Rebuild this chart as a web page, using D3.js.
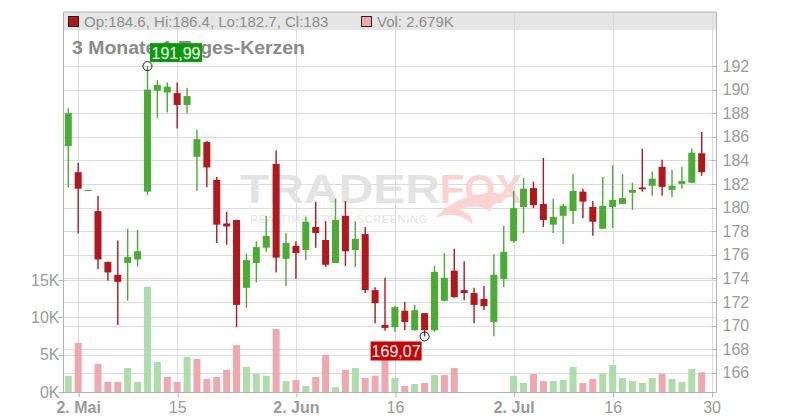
<!DOCTYPE html>
<html><head><meta charset="utf-8">
<script src="https://cdn.jsdelivr.net/npm/d3@7"></script>
<style>body{margin:0;background:#fff}svg{display:block;font-family:"Liberation Sans",Arial,sans-serif}</style>
</head><body><svg id="c" width="800" height="420"></svg>
<script>
const open  = [185.2,183.0,181.5,179.7,175.4,174.3,175.3,175.6,181.35,189.9,189.75,189.7,188.7,184.3,185.55,182.35,178.65,178.95,173.2,175.3,176.6,183.7,175.65,176.75,176.4,178.35,177.25,175.3,179.3,176.4,177.75,173.0,170.05,169.85,171.25,169.6,171.05,169.6,172.1,174.65,173.0,172.75,172.25,170.3,173.95,177.15,180.05,181.65,180.3,178.55,179.3,179.7,181.35,180.05,178.2,180.05,180.3,181.25,181.7,181.85,183.45,181.5,182.0,182.1,184.6];
const high  = [188.4,183.8,181.5,181.0,175.4,177.2,178.2,178.1,191.99,190.8,190.6,190.6,190.15,186.6,185.65,182.6,179.65,178.95,176.1,177.15,179.3,184.85,177.85,177.15,179.25,180.5,178.85,180.75,180.55,178.85,178.35,173.25,174.05,171.65,172.0,171.75,171.05,175.05,176.15,176.5,175.45,173.2,173.35,176.05,178.45,181.4,182.5,182.2,184.2,180.75,180.3,182.85,181.6,180.55,182.6,183.6,182.85,182.1,185.0,183.05,184.05,183.2,183.45,185.0,186.4];
const low   = [181.7,177.8,181.5,174.8,173.8,170.05,172.1,175.0,181.05,187.6,188.05,186.7,187.95,181.4,181.75,177.0,176.85,169.85,171.5,173.65,176.25,174.5,173.35,173.95,175.55,176.6,174.95,175.3,175.05,174.95,172.75,170.2,169.55,169.45,169.6,169.55,169.07,169.45,172.05,172.35,172.15,170.2,171.3,169.1,173.25,177.0,177.85,179.95,178.35,177.85,176.9,178.6,179.1,177.6,178.2,178.25,180.3,179.8,181.35,181.0,181.0,180.9,181.6,182.1,182.7];
const close = [188.0,181.6,181.5,175.6,174.5,173.7,175.8,176.3,190.0,190.4,190.25,188.7,189.45,185.8,183.4,178.55,178.4,171.75,175.55,176.65,177.6,175.75,177.0,176.15,178.8,177.85,175.15,178.95,176.3,177.35,173.0,171.9,169.8,171.55,170.3,171.3,169.6,174.55,174.05,172.4,172.75,171.75,171.65,174.3,176.25,179.95,181.6,180.2,178.95,179.2,180.15,181.4,180.5,178.8,180.15,180.65,180.8,181.5,181.55,182.45,181.75,181.85,182.25,184.65,183.0];
const volumeK = [2.2,6.6,0,3.8,1.4,1.4,3.25,1.4,14.1,4.05,2.05,1.4,4.7,4.45,1.8,2.05,3.0,6.3,3.4,2.45,2.2,8.45,1.5,1.65,0.85,2.05,5.0,0.7,3.0,3.25,1.9,2.2,5.4,1.9,0.85,1.1,1.25,2.3,2.3,3.25,0,0,0,0,0,2.2,1.25,2.45,1.5,1.5,1.65,3.4,1.25,1.8,2.6,3.65,1.9,1.5,1.25,1.9,2.45,1.8,1.4,3.1,2.679];
const tickIndex  = [1,11,23,33,45,55,65];
const tickLabels = ["2. Mai","15","2. Jun","16","2. Jul","16","30"];
const tickBold   = [true,false,true,false,true,false,false];
const priceTicks = [166,168,170,172,174,176,178,180,182,184,186,188,190,192];
const volTicks   = [0,5,10,15];
const titleText  = "3 Monate 1-Tages-Kerzen";
const hiLabel = "191,99", loLabel = "169,07";

const svg = d3.select("#c");
const L = 63.5, R = 716.5, T = 12, B = 392.5;
const x  = d3.scaleLinear().domain([0,65]).range([68.3,711.6]);
const yP = d3.scaleLinear().domain([166,192]).range([372.7,66]);
const yV = d3.scaleLinear().domain([0,15]).range([392.3,280]);
const GRID = "#dcdcdc", AX = "#b4b4b4", TXT = "#9a9a9a";
const GREEN = "#49ad34", RED = "#b3161b", VGREEN = "#acddaa", VRED = "#efa7b0";
const crisp = v => Math.round(v) + 0.5;

// header band
svg.append("rect").attr("x",L).attr("y",T).attr("width",R-L).attr("height",18).attr("fill","#e5e5e5");

// vertical grid
svg.append("g").selectAll("line").data(tickIndex).join("line")
  .attr("x1",d=>crisp(x(d))).attr("x2",d=>crisp(x(d))).attr("y1",T).attr("y2",B)
  .attr("stroke",GRID);
// horizontal price grid
svg.append("g").selectAll("line").data(priceTicks).join("line")
  .attr("x1",L).attr("x2",R).attr("y1",d=>crisp(yP(d))).attr("y2",d=>crisp(yP(d))).attr("stroke",GRID);
// volume grid
svg.append("g").selectAll("line").data(volTicks.slice(1)).join("line")
  .attr("x1",L).attr("x2",R).attr("y1",d=>crisp(yV(d))).attr("y2",d=>crisp(yV(d))).attr("stroke",GRID);

// watermark
const wm = svg.append("g");
wm.append("text").attr("x",240).attr("y",203).attr("font-size",40).attr("font-weight","bold")
  .attr("textLength",200).attr("lengthAdjust","spacingAndGlyphs").attr("fill","#e3e3e3").text("TRADER");
wm.append("text").attr("x",440).attr("y",203).attr("font-size",40).attr("font-weight","bold")
  .attr("textLength",82).attr("lengthAdjust","spacingAndGlyphs").attr("fill","#fbd3d3").text("FOX");
wm.append("path").attr("d","M436,218 C452,196 488,188 516,196 C500,198 492,204 490,212 C484,206 470,204 460,210 C468,212 474,218 472,224 C462,214 448,212 436,218 Z")
  .attr("fill","#fbd3d3");
wm.append("text").attr("x",250).attr("y",223).attr("font-size",11).attr("textLength",177)
  .attr("lengthAdjust","spacing").attr("fill","#e3e3e3").text("REALTIME STOCK SCREENING");

// volume bars
const idx = d3.range(close.length);
const vUp = i => i === 0 || close[i] >= close[i-1];
svg.append("g").selectAll("rect").data(idx).join("rect")
  .attr("x",i=>x(i)-3.5).attr("width",7)
  .attr("y",i=>yV(volumeK[i])).attr("height",i=>yV(0)-yV(volumeK[i]))
  .attr("fill",i=>vUp(i)?VGREEN:VRED);

// candles
const cg = svg.append("g");
const col = i => close[i] >= open[i] ? GREEN : RED;
cg.selectAll("line").data(idx).join("line")
  .attr("x1",i=>x(i)).attr("x2",i=>x(i)).attr("y1",i=>yP(high[i])).attr("y2",i=>yP(low[i]))
  .attr("stroke",col).attr("stroke-width",1.4);
cg.selectAll("rect").data(idx).join("rect")
  .attr("x",i=>x(i)-3.5).attr("width",7)
  .attr("y",i=>yP(Math.max(open[i],close[i])))
  .attr("height",i=>Math.max(1.2,Math.abs(yP(open[i])-yP(close[i]))))
  .attr("fill",col);

// axes lines
svg.append("line").attr("x1",L).attr("x2",L).attr("y1",T).attr("y2",B).attr("stroke",AX);
svg.append("line").attr("x1",R).attr("x2",R).attr("y1",T).attr("y2",B).attr("stroke",AX);
svg.append("line").attr("x1",L).attr("x2",R).attr("y1",B).attr("y2",B).attr("stroke",AX);
svg.append("line").attr("x1",L).attr("x2",R).attr("y1",T).attr("y2",T).attr("stroke",AX);

// right price axis
const ra = svg.append("g").attr("transform",`translate(${R},0)`)
  .call(d3.axisRight(yP).tickValues(priceTicks).tickSize(0).tickPadding(6).tickFormat(d3.format("d")));
ra.select(".domain").remove();
ra.selectAll("text").attr("fill",TXT).attr("font-size",16).attr("font-family","Liberation Sans, Arial, sans-serif");
svg.append("g").selectAll("line").data(priceTicks).join("line")
  .attr("x1",R-5).attr("x2",R).attr("y1",d=>crisp(yP(d))).attr("y2",d=>crisp(yP(d))).attr("stroke",AX);

// left volume axis
const la = svg.append("g").attr("transform",`translate(${L},0)`)
  .call(d3.axisLeft(yV).tickValues(volTicks).tickSize(0).tickPadding(4).tickFormat(d=>d+"K"));
la.select(".domain").remove();
la.selectAll("text").attr("fill",TXT).attr("font-size",16).attr("font-family","Liberation Sans, Arial, sans-serif");
svg.append("g").selectAll("line").data(volTicks).join("line")
  .attr("x1",L-5).attr("x2",L+1).attr("y1",d=>crisp(yV(d))).attr("y2",d=>crisp(yV(d))).attr("stroke",AX);

// bottom axis
const ba = svg.append("g").attr("transform",`translate(0,${B})`)
  .call(d3.axisBottom(x).tickValues(tickIndex).tickSize(5).tickPadding(4).tickFormat((d,i)=>tickLabels[i]));
ba.select(".domain").remove();
ba.selectAll("line").attr("stroke",AX).attr("transform","translate(0.5,0)");
ba.selectAll("text").attr("fill",TXT).attr("font-size",16).attr("dy","0.72em")
  .attr("font-family","Liberation Sans, Arial, sans-serif")
  .attr("font-weight",(d,i)=>tickBold[i]?"bold":"normal");

// header legend
const last = close.length-1;
svg.append("rect").attr("x",68.5).attr("y",16.5).attr("width",10).attr("height",10)
  .attr("fill",col(last)).attr("stroke","#222");
svg.append("text").attr("x",84).attr("y",27).attr("font-size",15).attr("fill","#8e8e8e")
  .text(`Op:${open[last]}, Hi:${high[last]}, Lo:${low[last]}, Cl:${close[last]}`);
svg.append("rect").attr("x",361.5).attr("y",16.5).attr("width",10).attr("height",10)
  .attr("fill",VRED).attr("stroke","#222");
svg.append("text").attr("x",377).attr("y",27).attr("font-size",15).attr("fill","#8e8e8e")
  .text(`Vol: ${volumeK[last]}K`);

// title
svg.append("text").attr("x",72).attr("y",54).attr("font-size",18).attr("font-weight","bold")
  .attr("textLength",233).attr("lengthAdjust","spacingAndGlyphs")
  .attr("fill","#8a8a8a").text(titleText);

// high / low markers
const hiI = d3.maxIndex(high), loI = d3.minIndex(low);
svg.append("circle").attr("cx",x(hiI)).attr("cy",yP(high[hiI])).attr("r",4.5)
  .attr("fill","none").attr("stroke","#222").attr("stroke-width",1);
svg.append("circle").attr("cx",x(loI)).attr("cy",yP(low[loI])).attr("r",4.5)
  .attr("fill","none").attr("stroke","#222").attr("stroke-width",1);
const hx = x(hiI)+2.5, hy = yP(high[hiI])-23;
svg.append("rect").attr("x",hx).attr("y",hy).attr("width",52).attr("height",19).attr("fill","#0a9a0a");
svg.append("text").attr("x",hx+26).attr("y",hy+15.5).attr("text-anchor","middle").attr("font-size",16)
  .attr("fill","#fff").text(hiLabel);
const lx = x(loI)-54, ly = yP(low[loI])+5;
svg.append("rect").attr("x",lx).attr("y",ly).attr("width",51).attr("height",19).attr("fill","#cc0000");
svg.append("text").attr("x",lx+25.5).attr("y",ly+15.5).attr("text-anchor","middle").attr("font-size",16)
  .attr("fill","#fff").text(loLabel);
</script></body></html>
